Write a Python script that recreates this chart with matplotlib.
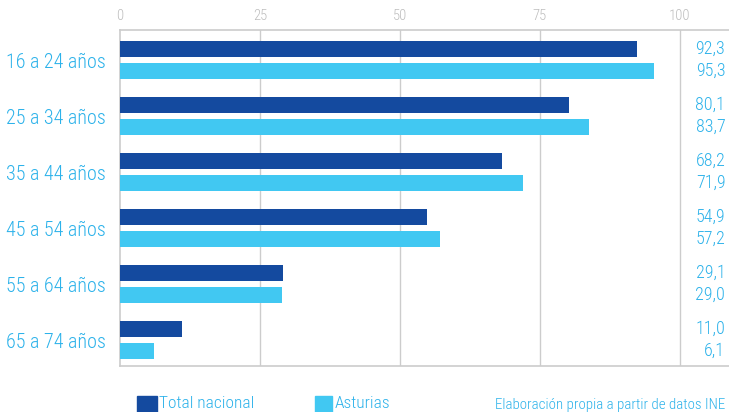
import matplotlib
matplotlib.use('Agg')
import matplotlib.pyplot as plt
from matplotlib import font_manager
import numpy as np

# ── Data ──────────────────────────────────────────────────────────────────────
groups   = ["16 a 24 años", "25 a 34 años", "35 a 44 años",
            "45 a 54 años", "55 a 64 años", "65 a 74 años"]
nacional = [92.3, 80.1, 68.2, 54.9, 29.1, 11.0]
asturias = [95.3, 83.7, 71.9, 57.2, 29.0, 6.1]
xticks   = [0, 25, 50, 75, 100]
source   = "Elaboración propia a partir de datos INE"

DARK  = '#144a9f'
LIGHT = '#41c8f2'
TXT   = '#2cb2ea'
GRID  = '#cccccc'
TICK  = '#bdbdbd'

# pick a condensed face, like the original's
installed = {f.name for f in font_manager.fontManager.ttflist}
FONT = 'DejaVu Sans'
for cand in ['Roboto Condensed', 'Archivo Narrow', 'Barlow Condensed', 'Asap Condensed']:
    if cand in installed:
        FONT = cand
        break
plt.rcParams['font.family'] = [FONT, 'DejaVu Sans']
plt.rcParams['font.weight'] = 'light'

fig = plt.figure(figsize=(7.29, 4.12), dpi=100)
W, H = 729, 412
ax = fig.add_axes([120 / W, 1 - 366 / H, 609 / W, 336 / H])

y = np.arange(len(groups))
bh, off = 0.29, 0.196
ax.barh(y - off, nacional, height=bh, color=DARK, zorder=3)
ax.barh(y + off, asturias, height=bh, color=LIGHT, zorder=3)

ax.set_xlim(0, 108.75)
ax.set_ylim(5.464, -0.536)

ax.set_xticks(xticks)
ax.xaxis.tick_top()
ax.tick_params(axis='x', length=0, pad=5, labelsize=10.5, labelcolor=TICK)
ax.set_yticks(y)
ax.set_yticklabels(groups)
ax.tick_params(axis='y', length=0, pad=10, labelsize=14.5, labelcolor=TXT)

for xv in xticks[1:]:
    ax.axvline(xv, color=GRID, lw=1, zorder=1)

for s in ['left', 'top', 'bottom']:
    ax.spines[s].set_color(GRID)
    ax.spines[s].set_linewidth(1.2)
ax.spines['right'].set_visible(False)

fmt = lambda v: f"{v:.1f}".replace('.', ',')
for i in range(len(groups)):
    ax.text(108.1, y[i] - off, fmt(nacional[i]), ha='right', va='center',
            fontsize=13, color=TXT)
    ax.text(108.1, y[i] + off, fmt(asturias[i]), ha='right', va='center',
            fontsize=13, color=TXT)

# legend + source
fig.patches.append(plt.Rectangle((137 / W, 1 - 412 / H), 20 / W, 16 / H,
                                 transform=fig.transFigure, color=DARK))
fig.text(159 / W, 1 - 404 / H, "Total nacional", fontsize=12.5, color=TXT, va='center')
fig.patches.append(plt.Rectangle((315 / W, 1 - 412 / H), 17 / W, 16 / H,
                                 transform=fig.transFigure, color=LIGHT))
fig.text(335 / W, 1 - 404 / H, "Asturias", fontsize=12.5, color=TXT, va='center')
fig.text(725 / W, 1 - 405 / H, source, fontsize=10.8, color=TXT, ha='right', va='center')

fig.savefig('out.png', dpi=100)
